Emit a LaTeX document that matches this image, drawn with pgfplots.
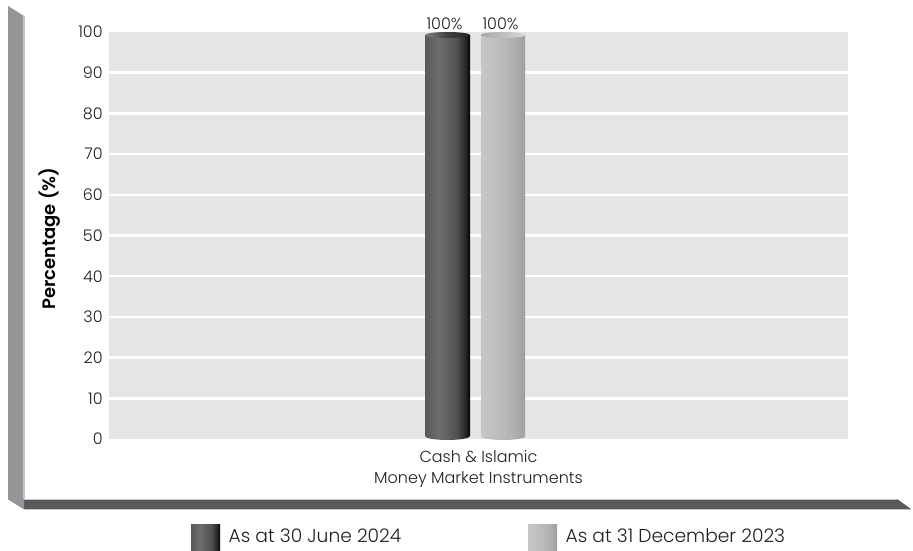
\documentclass[border=0pt]{standalone}
\usepackage{fontspec}
\setmainfont{Poppins Light}[BoldFont={Poppins SemiBold}]
\usepackage{pgfplots}
\pgfplotsset{compat=1.18}
\newdimen\px \px=0.75pt
\definecolor{panel}{HTML}{E4E5E7}
\definecolor{wall}{HTML}{939598}
\definecolor{wallEdge}{HTML}{C4C5C7}
\definecolor{floorc}{HTML}{58595B}
\definecolor{txt}{HTML}{231F20}
\pgfdeclarehorizontalshading{darkcyl}{100bp}{color(0bp)=(black!65);color(25bp)=(black!65);color(40bp)=(black!57);color(60bp)=(black!68);color(70bp)=(black!85);color(75bp)=(black);color(100bp)=(black)}
\pgfdeclarehorizontalshading{lightcyl}{100bp}{color(0bp)=(black!22);color(25bp)=(black!22);color(50bp)=(black!27);color(65bp)=(black!32);color(75bp)=(black!38);color(100bp)=(black!38)}
\pgfdeclarehorizontalshading{darkcap}{100bp}{color(0bp)=(black!50);color(25bp)=(black!50);color(50bp)=(black!75);color(75bp)=(black!85);color(100bp)=(black!85)}
\pgfdeclarehorizontalshading{lightcap}{100bp}{color(0bp)=(black!35);color(25bp)=(black!35);color(75bp)=(black!15);color(100bp)=(black!15)}
\pgfdeclareplotmark{captop}{%
  \pgfsetfillcolor{white}%
  \pgfpathrectangle{\pgfqpoint{-24\px}{-0.5\px}}{\pgfqpoint{48\px}{2\px}}\pgfusepathqfill
  \pgfsetfillcolor{panel}%
  \pgfpathrectangle{\pgfqpoint{-24\px}{-3.5\px}}{\pgfqpoint{48\px}{3.5\px}}\pgfusepathqfill
  \pgfpathellipse{\pgfqpoint{0pt}{-3\px}}{\pgfqpoint{22.5\px}{0pt}}{\pgfqpoint{0pt}{3\px}}%
  \pgfshadepath{\capshade}{0}\pgfusepath{}%
}
\pgfdeclareplotmark{capbot}{%
  \pgfsetfillcolor{white}%
  \pgfpathrectangle{\pgfqpoint{-24\px}{-1.5\px}}{\pgfqpoint{48\px}{2\px}}\pgfusepathqfill
  \pgfsetfillcolor{panel}%
  \pgfpathrectangle{\pgfqpoint{-24\px}{0pt}}{\pgfqpoint{48\px}{3.5\px}}\pgfusepathqfill
  \pgfpathellipse{\pgfqpoint{0pt}{3\px}}{\pgfqpoint{22.5\px}{0pt}}{\pgfqpoint{0pt}{4\px}}%
  \pgfshadepath{\bodyshade}{0}\pgfusepath{}%
}
\begin{document}
\begin{tikzpicture}[x=0.75pt,y=0.75pt]
\useasboundingbox (0,0) rectangle (913,550);
% frame: left wall and floor (y measured from the bottom)
\fill[wall] (8,544) -- (24,534) -- (24,41) -- (8,51) -- cycle;
\draw[wallEdge,line width=0.8pt] (24,534) -- (24,41);
\fill[floorc] (24,41) -- (8,51) -- (897,51) -- (911,41) -- cycle;
\fill[wall] (8,51) -- (24,41) -- (24,51) -- cycle;
\draw[wallEdge,line width=0.6pt] (24,51) -- (897,51);
\draw[wallEdge,line width=0.6pt] (24,41) -- (911,41);
\begin{axis}[
  at={(109\px,111\px)}, anchor=south west,
  scale only axis, width=739\px, height=407\px,
  xmin=-1, xmax=1, ymin=0, ymax=100,
  clip=false, axis line style={draw=none},
  axis background/.style={fill=panel},
  ytick={0,10,...,100},
  xtick={0},
  xticklabels={{Cash \& Islamic\\Money Market Instruments}},
  major tick length=0pt,
  extra y ticks={10,20,...,90},
  extra y tick labels={},
  extra tick style={grid=major, major grid style={white,line width=1.9pt}},
  /pgf/number format/assume math mode=true,
  yticklabel style={font=\fontsize{12}{14}\selectfont, text=txt, anchor=east, xshift=-1.2pt},
  xticklabel style={font=\fontsize{12}{15.8}\selectfont, text=txt, align=center, anchor=north, yshift=-5pt},
  ylabel={\textbf{Percentage (\%)}},
  every axis y label/.style={at={(axis description cs:-0.0798,0.4926)},rotate=90,anchor=center,font=\fontsize{13.5}{15}\selectfont,text=black},
  legend columns=2,
  legend style={at={(axis description cs:0.111,-0.2408)},anchor=west,draw=none,fill=none,inner sep=0pt,outer sep=0pt,
    font=\fontsize{14}{16}\selectfont, text=txt,
    /tikz/every even column/.append style={column sep=124\px}},
  legend cell align=left,
]
\addplot[ybar, bar width=45\px, bar shift=-31\px, draw=none, shading=darkcyl,
  legend image code/.code={\fill[shading=darkcyl] (0,-13\px) rectangle (29\px,13\px);},
  nodes near coords={\pgfmathprintnumber{\pgfplotspointmeta}\%},
  every node near coord/.append style={font=\fontsize{12}{14}\selectfont,text=txt,anchor=base,inner sep=0pt,yshift=2.5\px,xshift=-34\px}]
  coordinates {(0,100)};
\addlegendentry{\hspace{6\px}As at 30 June 2024}
\addplot[ybar, bar width=44\px, bar shift=24.5\px, draw=none, shading=lightcyl,
  legend image code/.code={\fill[shading=lightcyl] (0,-13\px) rectangle (29\px,13\px);},
  nodes near coords={\pgfmathprintnumber{\pgfplotspointmeta}\%},
  every node near coord/.append style={font=\fontsize{12}{14}\selectfont,text=txt,anchor=base,inner sep=0pt,yshift=2.5\px,xshift=22\px}]
  coordinates {(0,100)};
\addlegendentry{\hspace{6\px}As at 31 December 2023}
\def\capshade{darkcap}
\addplot[forget plot, only marks, mark=captop, mark options={xshift=-31\px}] coordinates {(0,100)};
\def\bodyshade{darkcyl}
\addplot[forget plot, only marks, mark=capbot, mark options={xshift=-31\px}] coordinates {(0,0)};
\end{axis}
\begin{axis}[
  at={(109\px,111\px)}, anchor=south west,
  scale only axis, width=739\px, height=407\px,
  xmin=-1, xmax=1, ymin=0, ymax=100, clip=false, hide axis]
\def\capshade{lightcap}
\addplot[forget plot, only marks, mark=captop, mark options={xshift=24.5\px}] coordinates {(0,100)};
\def\bodyshade{lightcyl}
\addplot[forget plot, only marks, mark=capbot, mark options={xshift=24.5\px}] coordinates {(0,0)};
\end{axis}
\end{tikzpicture}
\end{document}
